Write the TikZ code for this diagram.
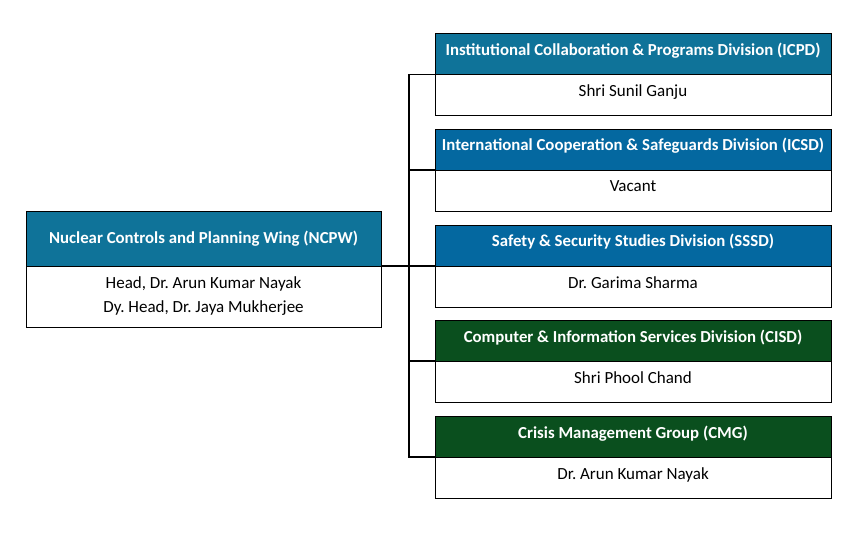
\documentclass[tikz,border=0pt]{standalone}
\usepackage{fontspec}
\setmainfont{Carlito}
\usetikzlibrary{positioning}
\frenchspacing

\definecolor{tealblue}{HTML}{0F7399}
\definecolor{deepblue}{HTML}{0468A0}
\definecolor{darkgreen}{HTML}{0A4F1E}

\tikzset{
  headbox/.style={rectangle, draw=black, line width=0.7pt, fill=#1, text=white,
    font=\fontsize{16.8}{20}\selectfont\bfseries, minimum width=396pt,
    minimum height=41pt, inner sep=0pt, outer sep=0pt, text height=12pt, text depth=9pt},
  namebox/.style={rectangle, draw=black, line width=0.7pt, fill=white,
    font=\fontsize{17}{24}\selectfont, minimum width=396pt,
    minimum height=41pt, inner sep=0pt, outer sep=0pt, align=center},
  onename/.style={text height=12pt, text depth=9pt},
  link/.style={line width=1.3pt, black}
}

\begin{document}
\begin{tikzpicture}[x=1pt, y=-1pt, node distance=0pt]
        \useasboundingbox (0,0) rectangle (856,545);

        % Define the wing box
        \node[headbox=tealblue, minimum width=355pt, minimum height=55pt, text height=16pt, text depth=6pt] (ncpw) at (203.5,238.5)
            {Nuclear Controls and Planning Wing (NCPW)};
        \node[namebox, minimum width=355pt, minimum height=61pt, below=of ncpw] (ncpwp)
            {Head, Dr. Arun Kumar Nayak\\Dy. Head, Dr. Jaya Mukherjee};

        % Define the division boxes
        \node[headbox=tealblue] (icpd) at (633,54) {Institutional Collaboration \& Programs Division (ICPD)};
        \node[namebox, onename, below=of icpd] (icpdp) {Shri Sunil Ganju};

        \node[headbox=deepblue] (icsd) at (633,149.5) {International Cooperation \& Safeguards Division (ICSD)};
        \node[namebox, onename, below=of icsd] (icsdp) {Vacant};

        \node[headbox=deepblue] (sssd) at (633,245.5) {Safety \& Security Studies Division (SSSD)};
        \node[namebox, onename, below=of sssd] (sssdp) {Dr. Garima Sharma};

        \node[headbox=darkgreen] (cisd) at (633,340.5) {Computer \& Information Services Division (CISD)};
        \node[namebox, onename, below=of cisd] (cisdp) {Shri Phool Chand};

        \node[headbox=darkgreen] (cmg) at (633,436.5) {Crisis Management Group (CMG)};
        \node[namebox, onename, below=of cmg] (cmgp) {Dr. Arun Kumar Nayak};

        % Define the trunk
        \coordinate (trunk) at (409,0);

        % Draw lines connecting the boxes
        \draw[link] (ncpw.south east) -- (sssd.south west);
        \draw[link] (icpd.south west) -- (icpd.south west -| trunk) -- (cmg.south west -| trunk) -- (cmg.south west);
        \foreach \d in {icsd, cisd}
            \draw[link] (\d.south west) -- (\d.south west -| trunk);

    \end{tikzpicture}
\end{document}
